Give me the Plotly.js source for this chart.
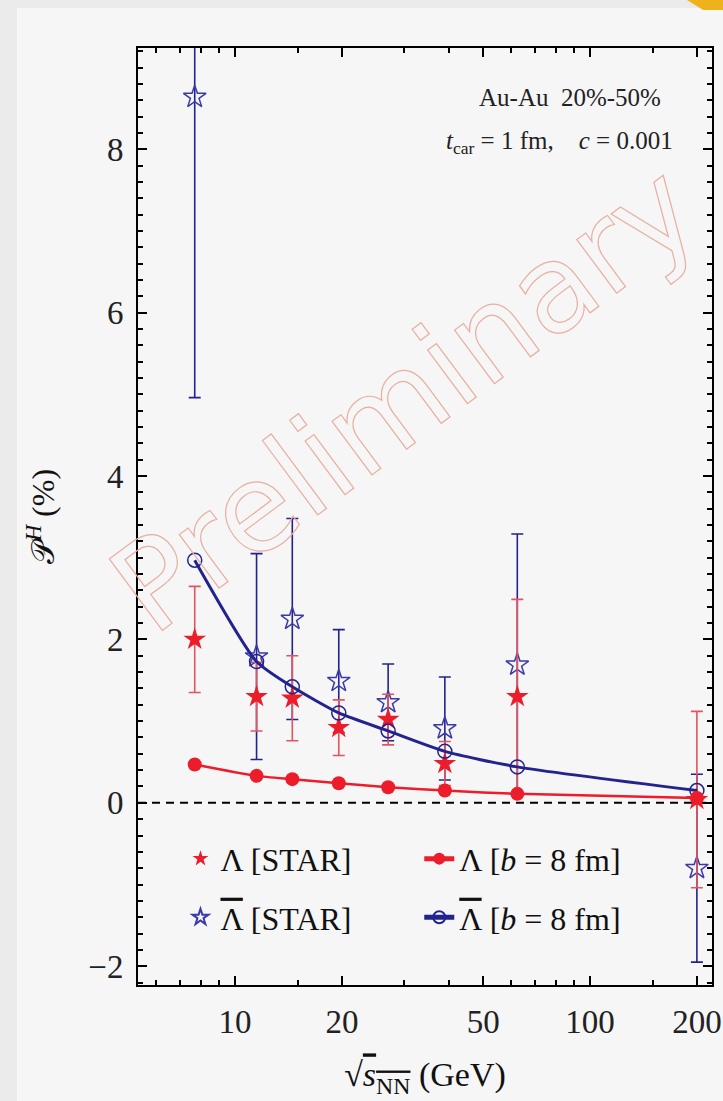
<!DOCTYPE html>
<html>
<head>
<meta charset="utf-8">
<script src="https://cdn.plot.ly/plotly-3.0.1.min.js"></script>
<style>
  html, body { margin: 0; padding: 0; background: #ebebeb; width: 723px; height: 1101px; overflow: hidden; }
  #chart { position: absolute; left: 17px; top: 8px; width: 706px; height: 1093px; }
  #corner { position: absolute; right: 0; top: 0; width: 36px; height: 10px; background: #eeb31a;
            clip-path: polygon(0 0, 100% 0, 100% 100%, 45% 100%); }
</style>
</head>
<body>
<div id="chart"></div>
<div id="corner"></div>
<script>
// energies (GeV)
const energies = [7.7, 11.5, 14.5, 19.6, 27, 39, 62.4, 200];

// STAR data, Lambda
const lamStar = [2.0, 1.30, 1.28, 0.92, 1.02, 0.48, 1.30, 0.04];
const lamStarErr = [0.65, 0.42, 0.52, 0.34, 0.31, 0.27, 1.19, 1.08];

// STAR data, anti-Lambda
const alamStar = [8.64, 1.79, 2.25, 1.49, 1.23, 0.91, 1.69, -0.80];
const alamStarErr = [3.68, 1.26, 1.23, 0.63, 0.47, 0.63, 1.60, 1.15];

// model b = 8 fm
const lamModel = [0.47, 0.33, 0.29, 0.24, 0.19, 0.15, 0.11, 0.06];
const alamModel = [2.97, 1.73, 1.42, 1.10, 0.88, 0.63, 0.44, 0.15];

// axis ticks
const xTicks = [10, 20, 50, 100, 200];
const xTickText = ['10', '20', '50', '100', '200'];
const xMinor = [6, 7, 8, 9, 15, 30, 40, 60, 70, 80, 90, 150];
const yTicks = [-2, 0, 2, 4, 6, 8];

const RED = '#ec1c2a';
const RED_ERR = '#e2545e';
const BLUE = '#23238f';
const FONT = 'Liberation Serif';
const ALAM = '<span style="text-decoration:overline">Λ</span>';

const traces = [
  {
    x: energies, y: alamStar, type: 'scatter', mode: 'markers',
    name: ALAM + ' [STAR]', legend: 'legend', legendrank: 2, legendgroup: 'a2',
    marker: { symbol: 'star-open', size: 17, color: '#3a3aa8', line: { width: 1.5, color: '#3a3aa8' } },
    error_y: { type: 'data', array: alamStarErr, visible: true, color: BLUE, thickness: 1.6, width: 6 }
  },
  {
    x: energies, y: lamStar, type: 'scatter', mode: 'markers',
    name: 'Λ [STAR]', legend: 'legend', legendrank: 1, legendgroup: 'a1',
    marker: { symbol: 'star', size: 17, color: RED },
    error_y: { type: 'data', array: lamStarErr, visible: true, color: RED_ERR, thickness: 1.6, width: 6 }
  },
  {
    x: energies, y: alamModel, type: 'scatter', mode: 'lines+markers',
    name: ALAM + ' [<i>b</i> = 8 fm]', legend: 'legend2', legendrank: 2, legendgroup: 'b2',
    line: { color: BLUE, width: 3, shape: 'spline', smoothing: 0.6 },
    marker: { symbol: 'circle-open', size: 14, color: BLUE, line: { width: 1.5, color: BLUE } }
  },
  {
    x: energies, y: lamModel, type: 'scatter', mode: 'lines+markers',
    name: 'Λ [<i>b</i> = 8 fm]', legend: 'legend2', legendrank: 1, legendgroup: 'b1',
    line: { color: RED, width: 2.5, shape: 'spline', smoothing: 0.6 },
    marker: { symbol: 'circle', size: 14, color: RED }
  }
];

const layout = {
  width: 706, height: 1093,
  margin: { l: 121, r: 11, t: 40, b: 116 },
  paper_bgcolor: '#f6f6f6', plot_bgcolor: '#f6f6f6',
  font: { family: FONT, color: '#111', size: 30 },
  showlegend: true,
  xaxis: {
    type: 'log', range: [Math.log10(5.33), Math.log10(220.6)],
    tickmode: 'array', tickvals: xTicks, ticktext: xTickText,
    ticks: 'inside', ticklen: 9, tickwidth: 2, tickcolor: '#000',
    showline: true, linewidth: 2, linecolor: '#000', mirror: 'allticks',
    showgrid: false, zeroline: false,
    tickfont: { family: FONT, size: 33, color: '#222' },
    ticklabelstandoff: 6,
    minor: { tickmode: 'array', tickvals: xMinor, ticks: 'inside', ticklen: 5, tickwidth: 2, tickcolor: '#000', showgrid: false },
    title: { text: '√<span style="text-decoration:overline"><i>s</i><sub>NN</sub></span> (GeV)', font: { family: FONT, size: 34, color: '#111' }, standoff: 24 }
  },
  yaxis: {
    range: [-2.23, 9.24],
    tickmode: 'array', tickvals: yTicks,
    ticks: 'inside', ticklen: 9, tickwidth: 2, tickcolor: '#000',
    showline: true, linewidth: 2, linecolor: '#000', mirror: 'allticks',
    showgrid: false, zeroline: false,
    tickfont: { family: FONT, size: 33, color: '#222' },
    ticklabelstandoff: 6,
    minor: { dtick: 0.2, ticks: 'inside', ticklen: 5, tickwidth: 2, tickcolor: '#000', showgrid: false },
    title: { text: '𝒫<sup><i>H</i></sup> (%)', font: { family: FONT, size: 32, color: '#111' }, standoff: 24 }
  },
  legend: {
    x: 0.074, y: 0.164, xanchor: 'left', yanchor: 'top',
    bgcolor: 'rgba(0,0,0,0)', borderwidth: 0,
    font: { family: FONT, size: 32, color: '#111' },
    itemsizing: 'constant', tracegroupgap: 14, traceorder: 'grouped'
  },
  legend2: {
    x: 0.49, y: 0.164, xanchor: 'left', yanchor: 'top',
    bgcolor: 'rgba(0,0,0,0)', borderwidth: 0,
    font: { family: FONT, size: 32, color: '#111' },
    itemsizing: 'constant', tracegroupgap: 14, traceorder: 'grouped'
  },
  shapes: [
    { type: 'line', xref: 'paper', yref: 'y', x0: 0, x1: 1, y0: 0, y1: 0,
      line: { color: '#000', width: 2, dash: '8px,6px' }, layer: 'below' }
  ],
  annotations: [
    { text: 'Au-Au\u00a0\u00a020%-50%', xref: 'paper', yref: 'paper', x: 0.915, y: 0.947,
      xanchor: 'right', yanchor: 'middle', showarrow: false, font: { family: FONT, size: 25, color: '#222' } },
    { text: '<i>t</i><sub>car</sub> = 1 fm,\u00a0\u00a0\u00a0\u00a0<i>c</i> = 0.001', xref: 'paper', yref: 'paper', x: 0.935, y: 0.899,
      xanchor: 'right', yanchor: 'middle', showarrow: false, font: { family: FONT, size: 25, color: '#222' } },
    { text: 'Preliminary', xref: 'paper', yref: 'paper', x: 0.465, y: 0.626,
      xanchor: 'center', yanchor: 'middle', showarrow: false, textangle: -36.6,
      font: { family: 'DejaVu Sans', size: 122, color: '#e8b2a4' } }
  ]
};

Plotly.newPlot('chart', traces, layout, { displayModeBar: false, staticPlot: true }).then(function () {
  document.querySelectorAll('.annotation-text').forEach(function (t) {
    if (t.textContent === 'Preliminary') {
      t.style.fill = 'none';
      t.style.stroke = '#e8b0a2';
      t.style.strokeWidth = '1.2px';
    }
  });
});
</script>
</body>
</html>
